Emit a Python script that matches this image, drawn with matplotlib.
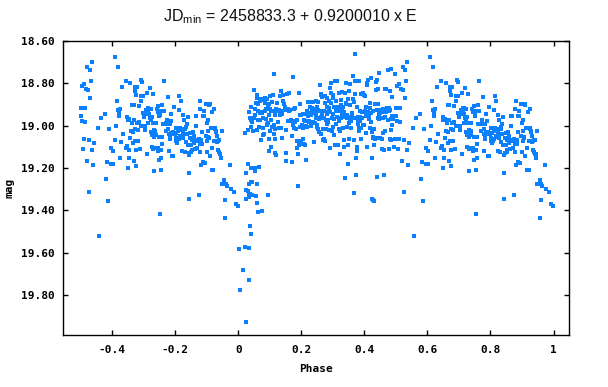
import matplotlib

matplotlib.use("Agg")
import matplotlib.pyplot as plt
import numpy as np

# Phased light curve.
# Points with phase < 0 are drawn a second time at phase + 1.
PRE_POINTS = [
    (-0.391, 18.675), (-0.382, 18.722), (-0.464, 18.700), (-0.479, 18.724), (-0.470, 18.738), (-0.467, 18.790),
    (-0.489, 18.804), (-0.496, 18.812), (-0.483, 18.827), (-0.477, 18.832), (-0.470, 18.870), (-0.499, 18.917),
    (-0.486, 18.917), (-0.500, 18.955), (-0.496, 18.978), (-0.486, 18.983), (-0.489, 19.064), (-0.474, 19.067),
    (-0.458, 19.082), (-0.493, 19.110), (-0.464, 19.115), (-0.480, 19.166), (-0.461, 19.185), (-0.474, 19.312),
    (-0.414, 19.355), (-0.442, 19.519), (-0.420, 19.251), (-0.417, 19.171), (-0.404, 19.180), (-0.397, 19.180),
    (-0.445, 19.013), (-0.436, 18.964), (-0.423, 18.945), (-0.410, 19.016), (-0.405, 19.105), (-0.398, 19.119),
    (-0.391, 19.067), (-0.388, 19.002), (-0.385, 18.884), (-0.383, 18.926), (-0.379, 18.940), (-0.379, 18.955),
    (-0.376, 18.922), (-0.376, 19.152), (-0.372, 19.077), (-0.369, 18.818), (-0.366, 19.039), (-0.357, 18.790),
    (-0.357, 19.105), (-0.353, 19.096), (-0.352, 18.959), (-0.350, 19.199), (-0.349, 18.973), (-0.348, 19.115),
    (-0.347, 19.152), (-0.345, 18.969), (-0.344, 19.058), (-0.342, 18.798), (-0.341, 19.027), (-0.338, 18.987),
    (-0.336, 18.901), (-0.335, 19.082), (-0.335, 19.028), (-0.332, 18.975), (-0.331, 18.903), (-0.331, 19.166),
    (-0.329, 18.837), (-0.328, 18.818), (-0.327, 19.071), (-0.326, 19.017), (-0.325, 19.190), (-0.325, 19.113),
    (-0.324, 18.856), (-0.322, 18.818), (-0.321, 18.989), (-0.319, 19.075), (-0.318, 19.019), (-0.316, 18.981),
    (-0.315, 18.907), (-0.312, 19.110), (-0.310, 18.859), (-0.309, 18.884), (-0.308, 19.000), (-0.307, 18.785),
    (-0.306, 18.860), (-0.304, 18.793), (-0.303, 18.940), (-0.302, 18.860), (-0.300, 18.959), (-0.297, 19.003),
    (-0.296, 19.020), (-0.294, 18.928), (-0.293, 18.934), (-0.291, 18.846), (-0.290, 19.133), (-0.289, 18.944),
    (-0.288, 18.928), (-0.287, 18.918), (-0.286, 18.933), (-0.285, 18.917), (-0.285, 18.989), (-0.284, 18.944),
    (-0.281, 18.823), (-0.280, 18.964), (-0.278, 18.973), (-0.277, 19.028), (-0.276, 18.920), (-0.275, 19.045),
    (-0.274, 19.099), (-0.273, 18.959), (-0.272, 18.851), (-0.271, 18.989), (-0.269, 19.110), (-0.268, 19.213),
    (-0.268, 19.055), (-0.267, 19.020), (-0.266, 19.107), (-0.264, 19.038), (-0.263, 19.024), (-0.262, 19.044),
    (-0.261, 18.989), (-0.258, 18.922), (-0.256, 19.118), (-0.255, 19.105), (-0.254, 18.934), (-0.253, 18.906),
    (-0.252, 19.162), (-0.251, 19.056), (-0.250, 18.956), (-0.249, 18.933), (-0.248, 18.951), (-0.247, 19.416),
    (-0.246, 19.209), (-0.245, 19.113), (-0.244, 19.152), (-0.243, 19.055), (-0.243, 19.085), (-0.241, 18.903),
    (-0.239, 18.991), (-0.236, 18.790), (-0.235, 18.929), (-0.233, 18.992), (-0.231, 18.992), (-0.229, 19.027),
    (-0.228, 18.989), (-0.227, 18.972), (-0.225, 18.992), (-0.224, 18.865), (-0.222, 19.014), (-0.220, 19.119),
    (-0.219, 19.041), (-0.218, 18.992), (-0.217, 19.055), (-0.216, 19.064), (-0.214, 18.944), (-0.213, 19.033),
    (-0.212, 18.978), (-0.211, 19.039), (-0.209, 19.143), (-0.208, 19.030), (-0.206, 19.143), (-0.205, 18.912),
    (-0.201, 19.041), (-0.199, 19.058), (-0.198, 19.013), (-0.197, 19.071), (-0.196, 19.033), (-0.195, 19.083),
    (-0.193, 19.071), (-0.190, 19.025), (-0.189, 18.926), (-0.188, 19.064), (-0.187, 18.860), (-0.186, 19.011),
    (-0.184, 19.047), (-0.182, 18.884), (-0.180, 19.055), (-0.179, 19.016), (-0.178, 19.022), (-0.177, 19.121),
    (-0.176, 18.951), (-0.175, 19.031), (-0.174, 19.058), (-0.173, 18.972), (-0.171, 19.038), (-0.169, 19.124),
    (-0.168, 19.016), (-0.167, 19.005), (-0.165, 19.077), (-0.164, 19.039), (-0.162, 18.994), (-0.160, 18.959),
    (-0.159, 19.093), (-0.157, 19.138), (-0.157, 19.223), (-0.157, 19.345), (-0.155, 19.127), (-0.154, 19.060),
    (-0.152, 19.033), (-0.151, 19.093), (-0.149, 19.125), (-0.148, 19.067), (-0.147, 19.113), (-0.146, 19.116),
    (-0.143, 19.030), (-0.141, 19.050), (-0.140, 19.082), (-0.138, 19.111), (-0.136, 19.067), (-0.135, 19.000),
    (-0.134, 18.955), (-0.133, 18.956), (-0.131, 19.071), (-0.130, 19.105), (-0.128, 19.074), (-0.126, 19.064),
    (-0.126, 19.326), (-0.122, 19.088), (-0.122, 18.920), (-0.122, 19.125), (-0.120, 18.884), (-0.119, 19.185),
    (-0.117, 19.067), (-0.116, 19.085), (-0.114, 19.031), (-0.113, 19.173), (-0.112, 18.956), (-0.110, 18.931),
    (-0.109, 18.955), (-0.108, 19.177), (-0.107, 19.176), (-0.103, 18.898), (-0.102, 19.047), (-0.100, 19.124),
    (-0.099, 18.986), (-0.098, 19.075), (-0.097, 18.975), (-0.096, 19.025), (-0.095, 19.053), (-0.093, 19.060),
    (-0.092, 18.903), (-0.090, 18.898), (-0.089, 19.143), (-0.086, 19.011), (-0.084, 19.104), (-0.083, 19.209),
    (-0.082, 18.934), (-0.080, 19.011), (-0.079, 19.209), (-0.078, 19.075), (-0.076, 18.922), (-0.075, 19.016),
    (-0.073, 19.011), (-0.071, 19.024), (-0.070, 19.031), (-0.069, 19.077), (-0.068, 19.047), (-0.065, 19.075),
    (-0.064, 19.115), (-0.062, 19.066), (-0.061, 19.125), (-0.060, 19.069), (-0.059, 19.136), (-0.057, 19.132),
    (-0.056, 19.152), (-0.053, 19.025), (-0.052, 19.275), (-0.044, 19.256), (-0.043, 19.435), (-0.041, 19.350),
    (-0.039, 19.275), (-0.036, 19.284), (-0.027, 19.185), (-0.023, 19.300), (-0.015, 19.312), (-0.008, 19.369),
    (-0.002, 19.381),
]

POST_POINTS = [
    (0.022, 19.033), (0.030, 19.020), (0.026, 19.223), (0.030, 19.180), (0.035, 19.275), (0.039, 19.198),
    (0.041, 19.268), (0.043, 19.264), (0.038, 19.323), (0.025, 19.303), (0.030, 19.309), (0.035, 19.329),
    (0.023, 19.345), (0.033, 19.337), (0.043, 19.329), (0.045, 19.198), (0.052, 19.198), (0.052, 19.213),
    (0.057, 19.331), (0.058, 19.275), (0.061, 19.364), (0.062, 19.406), (0.074, 19.402), (0.036, 19.472),
    (0.042, 19.510), (0.093, 19.326), (0.065, 19.196), (0.049, 18.832), (0.039, 18.914), (0.033, 18.937),
    (0.036, 18.964), (0.041, 18.972), (0.042, 19.008), (0.045, 18.984), (0.046, 19.024), (0.051, 18.964),
    (0.052, 18.922), (0.053, 18.948), (0.055, 18.895), (0.058, 18.870), (0.059, 18.854), (0.061, 19.019),
    (0.062, 18.933), (0.063, 18.972), (0.064, 18.898), (0.065, 19.008), (0.068, 18.884), (0.069, 18.940),
    (0.070, 18.972), (0.071, 19.069), (0.072, 18.937), (0.073, 18.875), (0.075, 18.942), (0.076, 18.879),
    (0.077, 18.964), (0.078, 19.011), (0.079, 19.044), (0.080, 18.873), (0.082, 19.042), (0.084, 18.892),
    (0.085, 18.929), (0.086, 18.870), (0.088, 18.922), (0.089, 18.967), (0.090, 18.992), (0.091, 18.876),
    (0.092, 18.998), (0.093, 18.989), (0.094, 18.907), (0.096, 18.898), (0.097, 18.951), (0.098, 19.064),
    (0.099, 19.118), (0.100, 19.024), (0.101, 18.860), (0.102, 18.922), (0.103, 19.099), (0.104, 18.933),
    (0.105, 18.973), (0.107, 19.005), (0.108, 18.887), (0.109, 18.854), (0.110, 18.933), (0.112, 19.042),
    (0.113, 18.998), (0.114, 18.757), (0.115, 19.129), (0.116, 19.064), (0.117, 19.017), (0.118, 18.948),
    (0.119, 19.140), (0.120, 18.922), (0.122, 18.895), (0.124, 18.929), (0.126, 18.983), (0.128, 18.929),
    (0.129, 19.011), (0.130, 18.925), (0.132, 18.860), (0.133, 18.951), (0.135, 18.931), (0.136, 19.011),
    (0.137, 18.835), (0.138, 19.058), (0.139, 18.944), (0.141, 18.882), (0.143, 18.856), (0.146, 18.898),
    (0.148, 18.928), (0.149, 18.914), (0.150, 19.166), (0.152, 19.022), (0.153, 19.127), (0.154, 18.922),
    (0.156, 18.851), (0.157, 18.980), (0.159, 18.922), (0.160, 18.846), (0.162, 18.929), (0.165, 18.928),
    (0.167, 18.975), (0.168, 18.980), (0.171, 19.174), (0.172, 19.049), (0.174, 18.998), (0.175, 18.771),
    (0.176, 18.978), (0.177, 18.923), (0.178, 19.013), (0.179, 18.981), (0.181, 18.917), (0.184, 19.017),
    (0.185, 19.075), (0.186, 19.108), (0.187, 18.976), (0.189, 19.285), (0.191, 19.136), (0.192, 19.091),
    (0.194, 18.846), (0.195, 18.948), (0.196, 19.008), (0.197, 18.896), (0.198, 19.071), (0.199, 19.089),
    (0.200, 18.948), (0.201, 18.998), (0.203, 19.005), (0.204, 18.945), (0.205, 19.013), (0.206, 19.064),
    (0.207, 19.000), (0.208, 18.972), (0.209, 18.944), (0.210, 19.088), (0.212, 19.091), (0.213, 18.978),
    (0.215, 19.000), (0.216, 19.160), (0.217, 18.933), (0.218, 18.940), (0.219, 19.005), (0.220, 18.890),
    (0.222, 18.955), (0.223, 18.980), (0.225, 18.981), (0.227, 18.939), (0.228, 18.914), (0.229, 18.890),
    (0.230, 18.950), (0.231, 19.003), (0.233, 18.890), (0.234, 18.933), (0.235, 18.918), (0.236, 18.981),
    (0.237, 18.926), (0.238, 18.890), (0.241, 19.078), (0.242, 18.986), (0.244, 18.940), (0.245, 18.922),
    (0.246, 18.885), (0.247, 18.947), (0.248, 18.965), (0.249, 19.008), (0.250, 18.998), (0.251, 18.911),
    (0.252, 18.925), (0.253, 19.016), (0.254, 18.887), (0.255, 18.933), (0.256, 19.030), (0.257, 18.970),
    (0.258, 18.965), (0.259, 18.809), (0.261, 18.849), (0.262, 19.039), (0.263, 18.854), (0.264, 18.958),
    (0.265, 18.933), (0.266, 18.865), (0.267, 18.944), (0.268, 19.016), (0.270, 19.066), (0.271, 18.965),
    (0.272, 19.064), (0.273, 18.933), (0.274, 18.862), (0.275, 18.892), (0.276, 19.072), (0.277, 18.975),
    (0.278, 19.014), (0.280, 18.991), (0.281, 18.868), (0.282, 18.944), (0.283, 18.912), (0.284, 18.976),
    (0.285, 18.984), (0.286, 18.936), (0.287, 18.884), (0.288, 19.019), (0.289, 18.918), (0.290, 18.821),
    (0.291, 19.105), (0.292, 18.936), (0.293, 18.848), (0.294, 18.801), (0.295, 18.895), (0.296, 18.964),
    (0.297, 19.024), (0.299, 18.871), (0.300, 18.944), (0.301, 19.005), (0.302, 18.854), (0.303, 18.912),
    (0.304, 18.967), (0.305, 19.044), (0.306, 19.091), (0.307, 18.791), (0.308, 18.911), (0.309, 18.994),
    (0.310, 18.882), (0.311, 18.933), (0.312, 18.791), (0.313, 18.961), (0.314, 18.926), (0.315, 19.091),
    (0.316, 18.922), (0.318, 18.978), (0.319, 18.845), (0.320, 19.016), (0.321, 18.914), (0.322, 18.929),
    (0.323, 19.027), (0.324, 19.133), (0.325, 18.878), (0.326, 18.903), (0.327, 18.965), (0.328, 18.950),
    (0.329, 18.925), (0.330, 18.840), (0.331, 19.011), (0.332, 18.912), (0.333, 18.942), (0.334, 19.067),
    (0.335, 18.934), (0.337, 19.100), (0.338, 19.246), (0.339, 18.959), (0.340, 18.848), (0.341, 18.892),
    (0.342, 18.799), (0.343, 18.898), (0.344, 18.965), (0.345, 18.948), (0.346, 19.008), (0.347, 19.180),
    (0.348, 19.091), (0.349, 18.875), (0.350, 18.838), (0.351, 18.989), (0.352, 19.064), (0.353, 18.901),
    (0.354, 18.802), (0.355, 18.970), (0.357, 18.978), (0.358, 18.961), (0.359, 19.011), (0.360, 18.942),
    (0.361, 18.958), (0.362, 18.942), (0.363, 18.873), (0.364, 18.766), (0.365, 18.965), (0.366, 18.890),
    (0.367, 19.066), (0.368, 19.320), (0.369, 18.851), (0.370, 18.663), (0.371, 18.790), (0.372, 18.962),
    (0.373, 19.152), (0.374, 19.234), (0.376, 19.102), (0.377, 18.911), (0.378, 19.118), (0.379, 18.973),
    (0.380, 18.991), (0.381, 18.959), (0.382, 19.027), (0.383, 19.013), (0.384, 18.788), (0.385, 18.980),
    (0.386, 18.929), (0.387, 18.961), (0.388, 19.013), (0.389, 19.063), (0.390, 18.851), (0.391, 18.937),
    (0.392, 18.965), (0.395, 18.995), (0.397, 18.848), (0.399, 18.857), (0.400, 18.995), (0.401, 18.937),
    (0.402, 18.933), (0.403, 18.862), (0.404, 18.912), (0.405, 19.033), (0.406, 18.956), (0.407, 18.799),
    (0.408, 18.809), (0.409, 19.100), (0.410, 18.784), (0.411, 18.934), (0.412, 18.785), (0.414, 18.950),
    (0.416, 18.970), (0.417, 18.917), (0.418, 18.895), (0.419, 19.013), (0.420, 18.983), (0.421, 18.942),
    (0.422, 18.776), (0.423, 19.031), (0.424, 19.344), (0.425, 19.152), (0.426, 19.058), (0.427, 19.056),
    (0.428, 18.933), (0.429, 19.350), (0.430, 19.017), (0.431, 19.091), (0.432, 19.355), (0.434, 19.061),
    (0.435, 18.898), (0.436, 18.831), (0.437, 18.795), (0.438, 19.060), (0.439, 18.784), (0.440, 18.928),
    (0.441, 19.242), (0.442, 18.898), (0.443, 18.964), (0.444, 18.829), (0.445, 18.754), (0.446, 18.953),
    (0.447, 18.942), (0.448, 18.969), (0.449, 18.939), (0.451, 19.060), (0.453, 18.928), (0.455, 18.934),
    (0.456, 19.064), (0.457, 19.110), (0.458, 18.923), (0.459, 18.964), (0.460, 19.036), (0.462, 19.235),
    (0.463, 19.115), (0.464, 18.958), (0.465, 19.024), (0.466, 18.826), (0.468, 18.826), (0.470, 18.934),
    (0.473, 18.917), (0.475, 18.976), (0.476, 18.736), (0.477, 18.917), (0.478, 19.110), (0.479, 18.931),
    (0.480, 18.835), (0.481, 18.926), (0.482, 19.064), (0.483, 19.019), (0.484, 18.732), (0.485, 19.066),
    (0.486, 18.967), (0.487, 18.955), (0.488, 18.867), (0.489, 18.998), (0.492, 18.967), (0.494, 19.102),
    (0.496, 19.064), (0.498, 18.757), (0.499, 18.917),
]

# primary minimum
DIP_POINTS = [
    (0.001, 19.580), (0.007, 19.773), (0.014, 19.679), (0.020, 19.571),
    (0.026, 19.928), (0.033, 19.576), (0.033, 19.726),
]

X_TICKS = [-0.4, -0.2, 0, 0.2, 0.4, 0.6, 0.8, 1]
X_TICK_LABELS = ["-0.4", "-0.2", "0", "0.2", "0.4", "0.6", "0.8", "1"]
Y_TICKS = [18.6, 18.8, 19.0, 19.2, 19.4, 19.6, 19.8]
Y_TICK_LABELS = ["18.60", "18.80", "19.00", "19.20", "19.40", "19.60", "19.80"]

TITLE = r"JD$_{\mathrm{min}}$ = 2458833.3 + 0.9200010 x E"
POINT_COLOR = "#0a80ff"

plt.rcParams["mathtext.fontset"] = "custom"
plt.rcParams["mathtext.rm"] = "Liberation Sans"
plt.rcParams["axes.unicode_minus"] = False

pre = np.array(PRE_POINTS)
post = np.array(POST_POINTS + DIP_POINTS)
phase = np.concatenate([pre[:, 0], pre[:, 0] + 1, post[:, 0]])
mag = np.concatenate([pre[:, 1], pre[:, 1], post[:, 1]])

fig = plt.figure(figsize=(6.08, 3.87), dpi=100)
ax = fig.add_axes([0.1041, 0.1344, 0.8322, 0.7604])

ax.plot(phase, mag, "s", ms=2.2, mew=0, color=POINT_COLOR)

ax.set_xlim(-0.555, 1.05)
ax.set_ylim(19.987, 18.6)

mono = {"family": "DejaVu Sans Mono", "weight": "bold", "size": 8}
ax.set_xticks(X_TICKS)
ax.set_xticklabels(X_TICK_LABELS, fontdict=mono)
ax.set_yticks(Y_TICKS)
ax.set_yticklabels(Y_TICK_LABELS, fontdict=mono)
ax.tick_params(axis="both", direction="in", length=3.6, width=1,
               top=True, right=True, color="black")
ax.tick_params(axis="x", pad=7.5)
ax.tick_params(axis="y", pad=6)
for spine in ax.spines.values():
    spine.set_linewidth(1)
    spine.set_color("black")

ax.set_xlabel("Phase", fontdict=mono, labelpad=6)
ax.set_ylabel("mag", fontdict=mono, labelpad=5)

fig.text(290.5 / 608, 1 - 16.5 / 387, TITLE, ha="center", va="center",
         fontsize=11.5, family="Liberation Sans", color="#111111")

fig.savefig("out.png", dpi=100)
plt.close(fig)
